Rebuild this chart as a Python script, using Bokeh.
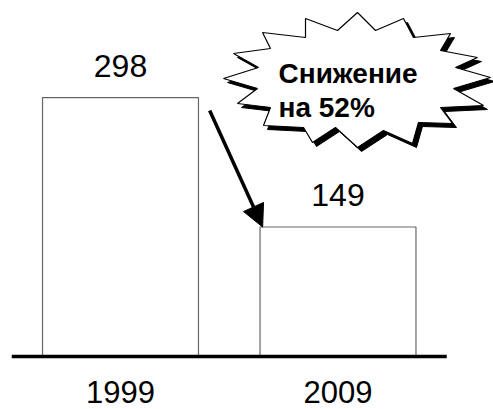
from bokeh.plotting import figure
from bokeh.models import Range1d, ColumnDataSource, Arrow, NormalHead
from bokeh.core.properties import value
from bokeh.embed import file_html
from bokeh.resources import INLINE

# Data
years = ["1999", "2009"]
counts = [298, 149]
callout_lines = ["Снижение", "на 52%"]

W, H = 493, 409
PX_X = 217.5          # pixels per category step
PX_Y = 0.869          # pixels per unit of value
X0_PX, Y0_PX = 120, 356   # pixel position of first category centre / zero line
BAR_W = 0.717

p = figure(width=W, height=H, output_backend="svg", toolbar_location=None,
           min_border=0, x_range=Range1d(-X0_PX / PX_X, (W - X0_PX) / PX_X),
           y_range=Range1d(-(H - Y0_PX) / PX_Y, Y0_PX / PX_Y))
p.axis.visible = False
p.grid.visible = False
p.outline_line_color = None
p.background_fill_color = "white"
p.border_fill_color = "white"

xs = list(range(len(years)))
src = ColumnDataSource(dict(x=xs, top=counts, year=years,
                            label=[str(c) for c in counts]))

p.vbar(x="x", top="top", bottom=0, width=BAR_W, source=src,
       fill_color="white", line_color="#666666", line_width=1.2)

# baseline
p.line(x=[-0.5, len(years) - 0.5], y=[0, 0], line_color="black", line_width=3.5)

font = value("Liberation Sans")
p.text(x="x", y="top", text="label", source=src, text_font=font,
       text_font_size="32px", text_align="center", text_baseline="bottom",
       y_offset=-21, text_color="black")
p.text(x="x", y=0, text="year", source=src, text_font=font,
       text_font_size="31px", text_align="center", text_baseline="middle",
       y_offset=35, text_color="black")

# arrow from first bar toward the top-left corner of the second bar
p.add_layout(Arrow(end=NormalHead(size=22, fill_color="black", line_color="black"),
                   x_start=0.41, y_start=283,
                   x_end=1 - BAR_W / 2 + 0.012, y_end=counts[1],
                   line_width=3.5, line_color="black"))

# starburst callout (vertex positions in pixels)
burst_px = [(357, 12), (375, 30), (403, 18), (413, 37), (450, 33), (440, 50),
            (477, 57), (455, 67), (490, 77), (453, 88), (483, 105), (440, 107),
            (452, 123), (418, 122), (412, 143), (383, 130), (357, 147), (335, 127),
            (312, 142), (303, 127), (263, 125), (270, 107), (237, 103), (257, 88),
            (223, 78), (258, 67), (233, 53), (270, 48), (262, 32), (305, 37),
            (305, 18), (337, 30)]

def to_data(px, py):
    return (px - X0_PX) / PX_X, (Y0_PX - py) / PX_Y

bx = [to_data(a, b)[0] for a, b in burst_px]
by = [to_data(a, b)[1] for a, b in burst_px]
sx = [to_data(a + 4, b + 4)[0] for a, b in burst_px]
sy = [to_data(a + 4, b + 4)[1] for a, b in burst_px]
p.patch(sx, sy, fill_color="black", line_color="black", line_width=1)
p.patch(bx, by, fill_color="white", line_color="black", line_width=1.2)

tx, ty1 = to_data(278, 73)
_, ty2 = to_data(278, 107)
p.text(x=[tx, tx], y=[ty1, ty2], text=callout_lines, text_font=font,
       text_font_size="28px", text_font_style="bold", text_align="left",
       text_baseline="alphabetic", text_color="black")

open("out.html", "w").write(file_html(p, INLINE))
